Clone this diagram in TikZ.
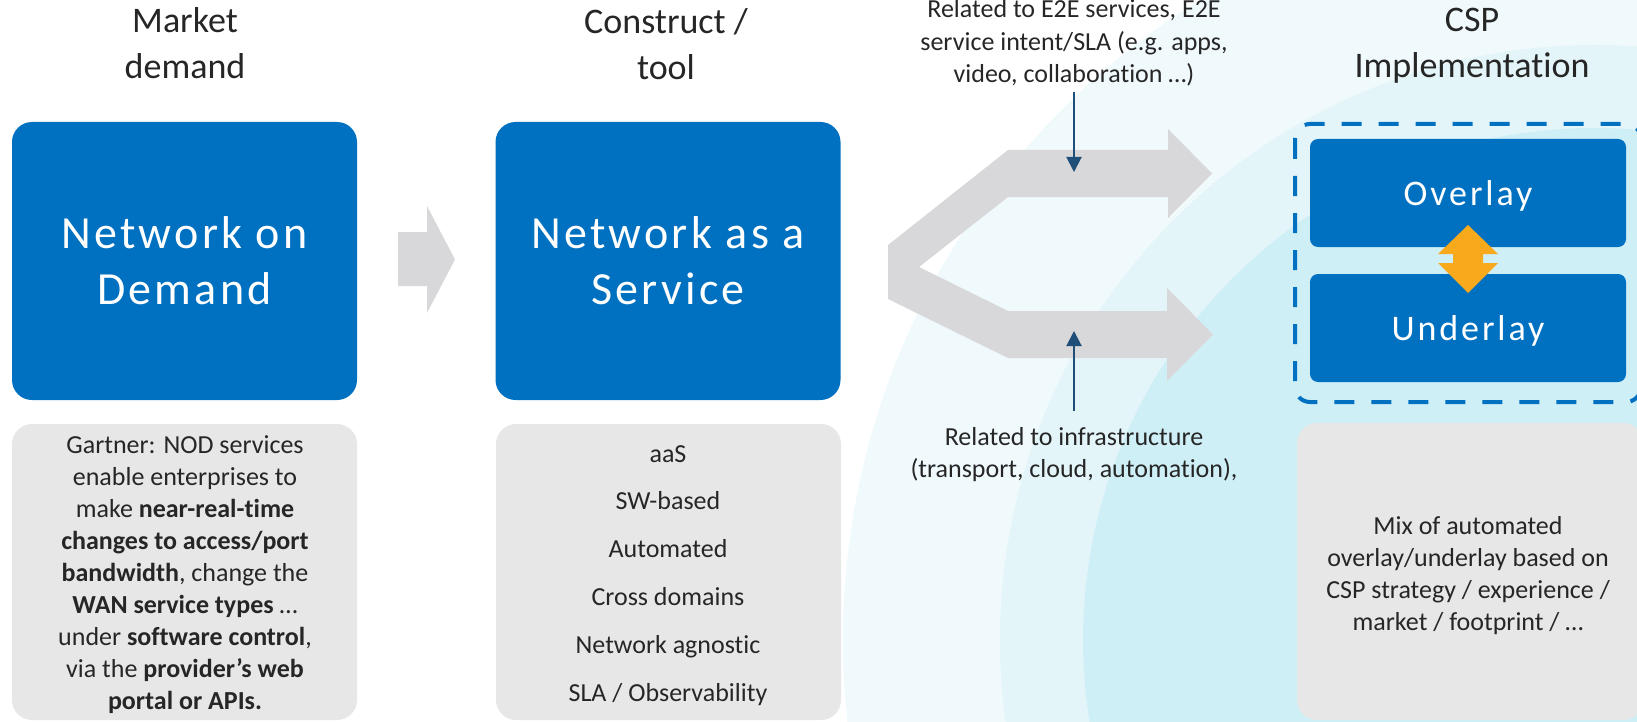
\documentclass[tikz,border=0pt]{standalone}
\usepackage{fontspec}
\setmainfont{Carlito}[Ligatures=CommonOff]
\usetikzlibrary{arrows.meta}
\definecolor{nblue}{HTML}{0070C0}
\definecolor{boxgray}{HTML}{E7E7E7}
\definecolor{arrgray}{HTML}{D8D8DA}
\definecolor{txtgray}{HTML}{262626}
\definecolor{navy}{HTML}{1F4E79}
\definecolor{orng}{HTML}{F8A91C}
\definecolor{bgA}{HTML}{F0F9FC}
\definecolor{bgB}{HTML}{E4F5FA}
\definecolor{bgC}{HTML}{CFEFF7}
\tikzset{
  bluebox/.style={fill=nblue, rounded corners=20pt, inner sep=0pt, text=white, align=center,
    font=\fontsize{46}{56}\selectfont\addfontfeatures{LetterSpace=7},
    minimum width=345pt, minimum height=278pt},
  graybox/.style={fill=boxgray, rounded corners=20pt, inner sep=0pt},
  txt/.style={text=txtgray, align=center, inner sep=0pt},
  hdr/.style={txt, font=\fontsize{36}{46}\selectfont},
  body/.style={txt, font=\fontsize{26}{32}\selectfont},
  lay/.style={fill=nblue, rounded corners=8pt, inner sep=0pt, text=white,
    font=\fontsize{36}{44}\selectfont\addfontfeatures{LetterSpace=8},
    minimum width=316pt, minimum height=108pt, text depth=0pt},
  navyarrow/.style={draw=navy, line width=2pt, -{Triangle[length=15pt,width=15pt]}},
}
\begin{document}
\begin{tikzpicture}[x=1pt,y=-1pt]
\useasboundingbox (0,0) rectangle (1637,722);
% background arcs
\begin{scope}
  \clip (0,0) rectangle (1637,722);
  \fill[bgA] (1595,640) circle[radius=752pt];
  \fill[bgB] (1595,640) circle[radius=595pt];
  \fill[bgC] (1595,640) circle[radius=512pt];
\end{scope}

% headers (anchor=base is the baseline of the last line)
\node[hdr, anchor=base] (h1) at (185,79) {Market\\demand};
\node[hdr, anchor=base] (h2) at (666,80) {Construct /\\tool};
\node[hdr, anchor=base] (h4) at (1472,78) {CSP\\Implementation};

% blue boxes
\node[bluebox] (nod) at (184.5,261) {Network on\\Demand};
\node[bluebox] (naas) at (668,261) {Network as a\\Service};

% small arrow between boxes
\fill[arrgray] (398,232) -- (427,232) -- (427,206) -- (455,259.5) -- (427,313) -- (427,286) -- (398,286) -- cycle;

% gray boxes
\node[graybox, minimum width=345pt, minimum height=296pt] (g1) at (184.5,572) {};
\node[graybox, minimum width=345pt, minimum height=296pt] (g2) at (668.5,572) {};
\node[graybox, minimum width=346pt, minimum height=297pt] (g4) at (1470,571.5) {};

\node[body, anchor=base] (t1) at (185,709) {Gartner: NOD services\\enable enterprises to\\make \textbf{near-real-time}\\\textbf{changes to access/port}\\\textbf{bandwidth}, change the\\\textbf{WAN service types} …\\under \textbf{software control},\\via the \textbf{provider’s web}\\\textbf{portal or APIs.}};
\node[txt, font=\fontsize{26}{47.8}\selectfont, anchor=base] (t2) at (668,701) {aaS\\SW-based\\Automated\\Cross domains\\Network agnostic\\SLA / Observability};
\node[body, anchor=base] (t4) at (1468,630) {Mix of automated\\overlay/underlay based on\\CSP strategy / experience /\\market / footprint / …};

% fork arrow
\fill[arrgray] (1008,150) -- (1168,150) -- (1168,129) -- (1212,173.5) -- (1168,218) -- (1168,197)
  -- (1008,197) -- (919,267) -- (1008,311) -- (1167,311) -- (1167,288) -- (1213,334.5)
  -- (1167,381) -- (1167,358) -- (1008,358) -- (888,299) -- (888,245) -- cycle;

% annotations
\node[txt, font=\fontsize{26}{32.5}\selectfont, anchor=base] (e2e) at (1074,83) {Related to E2E services, E2E\\service intent/SLA (e.g. apps,\\video, collaboration …)};
\node[body, anchor=base] (infra) at (1074,477) {Related to infrastructure\\(transport, cloud, automation),};
\coordinate (topin) at (1074,172);
\coordinate (botin) at (1074,331);
\coordinate (topst) at (1074,92);
\coordinate (botst) at (1074,411);
\draw[navyarrow] (topst) -- (topin);
\draw[navyarrow] (botst) -- (botin);

% CSP implementation
\draw[nblue, line width=4pt, dash pattern=on 20pt off 17pt, rounded corners=15pt] (1295,124) rectangle (1641,402);
\node[lay] (over) at (1468,193) {Overlay};
\node[lay] (under) at (1468,328) {Underlay};
\fill[orng] (1468,225) -- (1498,254) -- (1483,254) -- (1483,263) -- (1498,263) -- (1468,293)
  -- (1438,263) -- (1453,263) -- (1453,254) -- (1438,254) -- cycle;
\end{tikzpicture}
\end{document}
